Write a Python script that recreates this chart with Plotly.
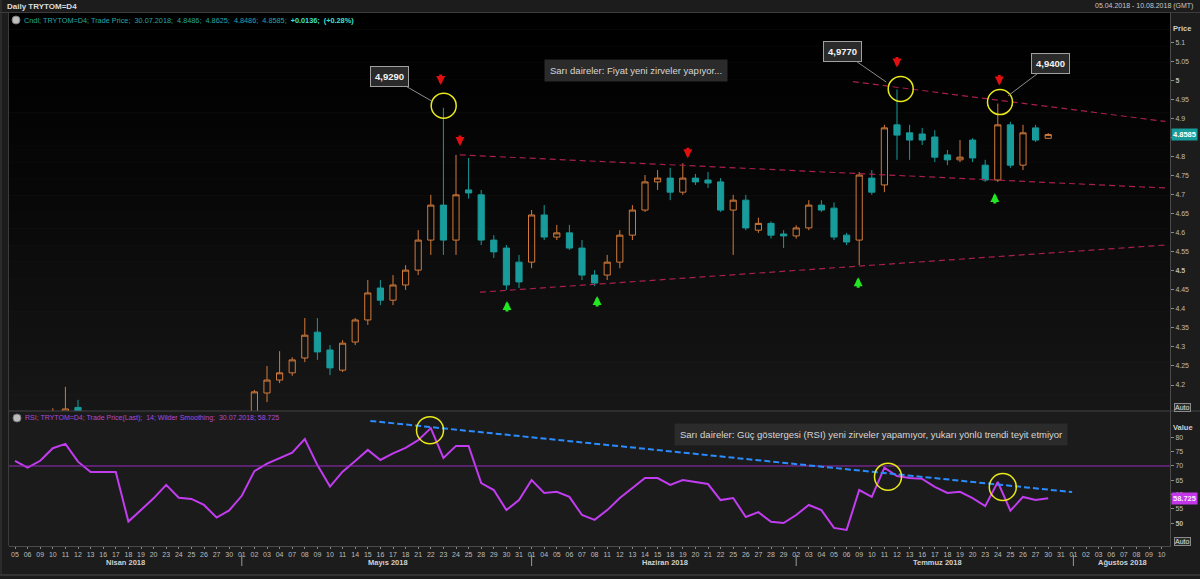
import plotly.graph_objects as go

W, H = 1200, 579

# ---------------- data ----------------
april_days = [5, 6, 9, 10, 11, 12, 13, 16, 17, 18, 19, 20, 23, 24, 25, 26, 27, 30]
may_days = [1, 2, 3, 4, 7, 8, 9, 10, 11, 14, 15, 16, 17, 18, 21, 22, 23, 24, 25, 28, 29, 30, 31]
june_days = [1, 4, 5, 6, 7, 8, 11, 12, 13, 14, 15, 18, 19, 20, 21, 22, 25, 26, 27, 28, 29]
july_days = [2, 3, 4, 5, 6, 9, 10, 11, 12, 13, 16, 17, 18, 19, 20, 23, 24, 25, 26, 27, 30, 31]
august_days = [1, 2, 3, 6, 7, 8, 9, 10]
month_numbers = [4, 5, 6, 7, 8]
month_names = ["Nisan 2018", "Mayıs 2018", "Haziran 2018", "Temmuz 2018", "Ağustos 2018"]

candle_dates = ["04-10", "04-11", "04-12", "05-02", "05-03", "05-04", "05-07", "05-08", "05-09", "05-10",
                "05-11", "05-14", "05-15", "05-16", "05-17", "05-18", "05-21", "05-22", "05-23", "05-24",
                "05-25", "05-28", "05-29", "05-30", "05-31", "06-01", "06-04", "06-05", "06-06", "06-07",
                "06-08", "06-11", "06-12", "06-13", "06-14", "06-15", "06-18", "06-19", "06-20", "06-21",
                "06-22", "06-25", "06-26", "06-27", "06-28", "06-29", "07-02", "07-03", "07-04", "07-05",
                "07-06", "07-09", "07-10", "07-11", "07-12", "07-13", "07-16", "07-17", "07-18", "07-19",
                "07-20", "07-23", "07-24", "07-25", "07-26", "07-27", "07-30"]
opens = [4.110, 4.110, 4.141, 4.120, 4.179, 4.213, 4.232, 4.271, 4.339, 4.292,
         4.239, 4.313, 4.371, 4.455, 4.423, 4.463, 4.502, 4.581, 4.673, 4.581,
         4.713, 4.700, 4.581, 4.560, 4.523, 4.523, 4.647, 4.589, 4.600, 4.560,
         4.489, 4.489, 4.523, 4.594, 4.660, 4.734, 4.744, 4.707, 4.744, 4.739,
         4.734, 4.660, 4.686, 4.607, 4.625, 4.597, 4.592, 4.613, 4.673, 4.665,
         4.594, 4.581, 4.744, 4.726, 4.884, 4.863, 4.860, 4.852, 4.805, 4.792,
         4.844, 4.778, 4.739, 4.884, 4.778, 4.876, 4.8486]
highs = [4.139, 4.195, 4.161, 4.187, 4.250, 4.289, 4.273, 4.376, 4.376, 4.305,
         4.318, 4.376, 4.476, 4.476, 4.489, 4.515, 4.607, 4.700, 4.929, 4.805,
         4.797, 4.713, 4.594, 4.568, 4.542, 4.660, 4.673, 4.621, 4.621, 4.581,
         4.502, 4.542, 4.607, 4.673, 4.752, 4.765, 4.771, 4.783, 4.755, 4.760,
         4.744, 4.700, 4.700, 4.640, 4.630, 4.607, 4.620, 4.686, 4.686, 4.680,
         4.600, 4.760, 4.765, 4.884, 4.977, 4.884, 4.876, 4.870, 4.818, 4.844,
         4.849, 4.792, 4.940, 4.892, 4.884, 4.884, 4.8625]
lows = [4.095, 4.100, 4.110, 4.110, 4.155, 4.205, 4.224, 4.260, 4.266, 4.226,
        4.234, 4.305, 4.358, 4.410, 4.410, 4.450, 4.489, 4.542, 4.542, 4.542,
        4.690, 4.568, 4.534, 4.450, 4.455, 4.507, 4.581, 4.581, 4.555, 4.476,
        4.460, 4.476, 4.507, 4.581, 4.655, 4.713, 4.686, 4.700, 4.726, 4.718,
        4.655, 4.542, 4.607, 4.600, 4.585, 4.560, 4.585, 4.607, 4.655, 4.581,
        4.568, 4.515, 4.700, 4.707, 4.792, 4.792, 4.831, 4.786, 4.778, 4.786,
        4.786, 4.734, 4.734, 4.771, 4.765, 4.839, 4.8486]
closes = [4.125, 4.137, 4.120, 4.182, 4.213, 4.232, 4.266, 4.331, 4.287, 4.245,
          4.310, 4.371, 4.442, 4.423, 4.463, 4.502, 4.581, 4.673, 4.581, 4.700,
          4.705, 4.581, 4.550, 4.463, 4.471, 4.647, 4.589, 4.600, 4.560, 4.489,
          4.468, 4.523, 4.594, 4.660, 4.734, 4.744, 4.707, 4.744, 4.734, 4.731,
          4.660, 4.686, 4.613, 4.625, 4.594, 4.592, 4.613, 4.673, 4.660, 4.589,
          4.576, 4.752, 4.707, 4.876, 4.857, 4.844, 4.844, 4.799, 4.792, 4.799,
          4.797, 4.739, 4.884, 4.778, 4.863, 4.844, 4.8585]

rsi_values = [71.8, 69.4, 71.8, 76.2, 77.7, 71.5, 67.9, 67.9, 67.9, 50.6,
              54.8, 58.7, 63.4, 58.9, 58.5, 56.4, 52.0, 54.5, 59.6, 68.2,
              70.8, 72.7, 74.6, 79.4, 70.3, 62.8, 68.0, 71.7, 75.6, 72.1,
              74.4, 76.3, 79.0, 83.2, 72.8, 77.0, 77.0, 64.0, 61.6, 54.6,
              58.1, 65.1, 60.6, 61.0, 59.2, 52.9, 51.2, 54.6, 58.8, 62.3,
              65.8, 65.8, 63.4, 65.1, 64.4, 63.7, 58.1, 58.8, 52.2, 53.9,
              50.5, 50.1, 52.9, 56.4, 54.6, 48.4, 47.7, 61.6, 59.2, 69.4,
              66.5, 65.8, 65.5, 62.7, 60.6, 61.0, 58.8, 56.0, 64.4, 54.4,
              59.2, 58.1, 58.725]

price_ticks = [4.2, 4.25, 4.3, 4.35, 4.4, 4.45, 4.5, 4.55, 4.6, 4.65, 4.7, 4.75,
               4.8, 4.85, 4.9, 4.95, 5.0, 5.05, 5.1]
rsi_ticks = [50, 55, 60, 65, 70, 75, 80]
rsi_level = 70

# peaks marked with yellow circles and callouts
peak_dates = ["05-23", "07-12", "07-24"]
peak_labels = ["4,9290", "4,9770", "4,9400"]
rsi_peak_dates = ["05-22", "07-11", "07-24"]

# trend lines (date-index, value) pairs
upper_res = [(66.5, 4.9975), (91.3, 4.893)]
triangle_top = [(35.3, 4.805), (91.3, 4.718)]
triangle_bot = [(36.9, 4.444), (91.3, 4.568)]
rsi_trend = [(28.2, 85.7), (83.9, 60.9)]

red_arrow_dates = ["05-23", "05-24", "06-19", "07-12", "07-24"]
green_arrow_dates = ["05-30", "06-08", "07-09", "07-24"]

# ---------------- derived ----------------
trade_dates = []
for m, days in zip(month_numbers, [april_days, may_days, june_days, july_days, august_days]):
    trade_dates += [f"{m:02d}-{d:02d}" for d in days]
tick_labels = [d[-2:] for d in trade_dates]
idx_of = {d: i for i, d in enumerate(trade_dates)}
cx = [idx_of[d] for d in candle_dates]
high_of = dict(zip(candle_dates, highs))
low_of = dict(zip(candle_dates, lows))

# ---------------- layout calibration (pixels) ----------------
X_FIRST, X_STEP = 15.0, 12.6
PX_L, PX_R = 9, 1170
P_TOP, P_BOT = 13, 411
R_TOP, R_BOT = 411, 546
ppu = (385.0 - 42.7) / 0.9
price_top = 5.1 + (42.7 - P_TOP) / ppu
price_bot = 5.1 - (P_BOT - 42.7) / ppu
rpu = (523.3 - 437.3) / 30.0
rsi_top = 80 + (437.3 - R_TOP) / rpu
rsi_bot = 80 - (R_BOT - 437.3) / rpu
idx_lo = (PX_L - X_FIRST) / X_STEP
idx_hi = (PX_R - X_FIRST) / X_STEP


def fx(p):
    return p / W


def fy(p):
    return 1 - p / H


ORANGE = "#d27a3a"
TEAL = "#189b9b"
RSI_C = "#c23cf0"
FONT = "Liberation Sans"

fig = go.Figure()
fig.add_trace(go.Candlestick(
    x=cx, open=opens, high=highs, low=lows, close=closes,
    increasing=dict(line=dict(color=ORANGE, width=1), fillcolor="rgba(0,0,0,0)"),
    decreasing=dict(line=dict(color=TEAL, width=1), fillcolor=TEAL),
    whiskerwidth=0, showlegend=False, hoverinfo="skip", xaxis="x", yaxis="y"))
fig.add_trace(go.Scatter(
    x=list(range(len(rsi_values))), y=rsi_values, mode="lines",
    line=dict(color=RSI_C, width=2), showlegend=False, hoverinfo="skip",
    xaxis="x", yaxis="y2"))

shapes = []
# price panel gradient background
N = 24
for k in range(N):
    y0 = P_TOP + (P_BOT - P_TOP) * k / N
    y1 = P_TOP + (P_BOT - P_TOP) * (k + 1) / N
    g = int(round(22 * (k / (N - 1)) ** 1.3))
    shapes.append(dict(type="rect", xref="paper", yref="paper", x0=fx(PX_L), x1=fx(PX_R),
                       y0=fy(y1), y1=fy(y0), fillcolor=f"rgb({g},{g},{g})",
                       line=dict(width=0), layer="below"))
shapes.append(dict(type="rect", xref="paper", yref="paper", x0=fx(PX_L), x1=fx(PX_R),
                   y0=fy(R_BOT), y1=fy(R_TOP), fillcolor="#1b1b1b", line=dict(width=0), layer="below"))
# frame lines
for (x0, y0, x1, y1, c) in [(0, 12.5, W, 12.5, "#3c3c3c"), (PX_L - 0.5, 12, PX_L - 0.5, R_BOT, "#3c3c3c"),
                            (PX_L, R_TOP, W, R_TOP, "#444444"), (0, 575, W, 575, "#4a4a4a"),
                            (1, 0, 1, 575, "#3a3a3a")]:
    shapes.append(dict(type="line", xref="paper", yref="paper", x0=fx(x0), x1=fx(x1),
                       y0=fy(y0), y1=fy(y1), line=dict(color=c, width=1)))
# RSI 70 line
shapes.append(dict(type="line", xref="paper", yref="y2", x0=fx(PX_L), x1=fx(PX_R),
                   y0=rsi_level, y1=rsi_level, line=dict(color="#9a2cc0", width=1)))
# price trend lines
for seg in [upper_res, triangle_top, triangle_bot]:
    shapes.append(dict(type="line", xref="x", yref="y", x0=seg[0][0], y0=seg[0][1],
                       x1=seg[1][0], y1=seg[1][1], line=dict(color="#a8204c", width=1.2, dash="6px,4px")))
shapes.append(dict(type="line", xref="x", yref="y2", x0=rsi_trend[0][0], y0=rsi_trend[0][1],
                   x1=rsi_trend[1][0], y1=rsi_trend[1][1],
                   line=dict(color="#2a8cff", width=2, dash="6px,3px")))
# yellow circles (pixel sized)
price_circle_off = [(0.3, 2.0), (3.7, 0.5), (2.2, 1.5)]
for d, (ox, oy) in zip(peak_dates, price_circle_off):
    r = 12.5
    shapes.append(dict(type="circle", xref="x", yref="y", xsizemode="pixel", ysizemode="pixel",
                       xanchor=idx_of[d], yanchor=high_of[d], x0=ox - r, x1=ox + r, y0=oy - r, y1=oy + r,
                       line=dict(color="#e8e81a", width=1.5)))
rsi_circle_off = [(-0.8, -2.0), (3.6, -9.0), (5.0, -5.0)]
for d, (ox, oy) in zip(rsi_peak_dates, rsi_circle_off):
    r = 13.5
    i = idx_of[d]
    shapes.append(dict(type="circle", xref="x", yref="y2", xsizemode="pixel", ysizemode="pixel",
                       xanchor=i, yanchor=rsi_values[i], x0=ox - r, x1=ox + r, y0=oy - r, y1=oy + r,
                       line=dict(color="#e8e81a", width=1.5)))
# month separators
for days, m in zip([may_days, june_days, july_days, august_days], month_numbers[1:]):
    i = idx_of[f"{m:02d}-{days[0]:02d}"]
    shapes.append(dict(type="line", xref="x", yref="paper", x0=i, x1=i, y0=fy(566), y1=fy(555),
                       line=dict(color="#9a9a9a", width=1)))
# legend icons
for (ix, iy) in [(16, 20), (17, 418)]:
    shapes.append(dict(type="circle", xref="paper", yref="paper", x0=fx(ix - 4), x1=fx(ix + 4),
                       y0=fy(iy + 4), y1=fy(iy - 4), fillcolor="#bdbdbd", line=dict(color="#7a7a7a", width=1)))

ann = []


def text(x, y, s, size=7, color="#cfcfcf", xanchor="left", bold=False, **kw):
    ann.append(dict(xref="paper", yref="paper", x=fx(x), y=fy(y), text=(f"<b>{s}</b>" if bold else s),
                    showarrow=False, xanchor=xanchor, yanchor="middle",
                    font=dict(family=FONT, size=size, color=color), **kw))


text(5, 6.5, "Daily TRYTOM=D4", size=8, color="#dcdcdc", bold=True)
text(1195, 6.5, "05.04.2018 - 10.08.2018 (GMT)", size=7, color="#c8c8c8", xanchor="right")
text(22, 20, "Cndl; TRYTOM=D4; Trade Price;  30.07.2018;  4.8486;  4.8625;  4.8486;  4.8585;  "
             "<span style='color:#3fe0d0'><b>+0.0136;  (+0.28%)</b></span>", size=7.3, color="#27a7a7")
text(23, 418, "RSI; TRYTOM=D4; Trade Price(Last);  14; Wilder Smoothing;  30.07.2018; 58.725",
     size=7, color="#b048d8")
text(1182, 29, "Price", size=7.5, color="#cfcfcf", xanchor="center", bold=True)
text(1183, 427, "Value", size=7.5, color="#cfcfcf", xanchor="center", bold=True)
for yy in [408, 541]:
    text(1182, yy, "Auto", size=7, color="#e0e0e0", xanchor="center",
         bgcolor="#2c2c2c", bordercolor="#8a8a8a", borderwidth=1, borderpad=0)
text(636, 70.5, "Sarı daireler: Fiyat yeni zirveler yapıyor...", size=9.5, color="#d6d6d6",
     xanchor="center", bgcolor="#2b2b2b", borderpad=5)
text(871, 434.5, "Sarı daireler: Güç göstergesi (RSI) yeni zirveler yapamıyor, yukarı yönlü trendi teyit etmiyor",
     size=9.5, color="#d6d6d6", xanchor="center", bgcolor="#2b2b2b", borderpad=5)

# month labels
month_label_px = [125, 388, 665, 937, 1122]
for name, mx in zip(month_names, month_label_px):
    text(mx, 562, name, size=7.5, color="#d0d0d0", xanchor="center", bold=True)

# current value boxes
ann.append(dict(xref="paper", yref="y", x=fx(1170.5), y=closes[-1], text=f"<b>{closes[-1]:.4f}</b>",
                showarrow=False, xanchor="left", yanchor="middle", bgcolor=TEAL, borderpad=1,
                font=dict(family=FONT, size=7.5, color="#ffffff")))
ann.append(dict(xref="paper", yref="y2", x=fx(1170.5), y=rsi_values[-1], text=f"<b>{rsi_values[-1]:.3f}</b>",
                showarrow=False, xanchor="left", yanchor="middle", bgcolor="#c238e8", borderpad=1,
                font=dict(family=FONT, size=7.5, color="#ffe6ff")))

# callout boxes with leader lines to circled peaks
callout_off = [(-54, -31), (-55, -38), (53, -40)]
for d, lab, (axp, ayp) in zip(peak_dates, peak_labels, callout_off):
    ann.append(dict(xref="x", yref="y", x=idx_of[d], y=high_of[d], text=f"<b>{lab}</b>",
                    showarrow=True, arrowhead=0, arrowwidth=1, arrowcolor="#8c8c8c", ax=axp, ay=ayp,
                    standoff=13, bgcolor="#2a2a2a", bordercolor="#a0a0a0", borderwidth=1, borderpad=4,
                    font=dict(family=FONT, size=9.5, color="#f2f2f2")))

# red / green arrows
red_shift = [(-2.7, 22.7), (4, 9), (5, 5), (0, 22), (1.5, 18)]
for d, (xs, ys) in zip(red_arrow_dates, red_shift):
    ann.append(dict(xref="x", yref="y", x=idx_of[d], y=high_of[d], text="", showarrow=True,
                    arrowhead=2, arrowsize=0.6, arrowwidth=3, arrowcolor="#e01010",
                    ax=0, ay=-12, xshift=xs, yshift=ys))
green_shift = [(0.6, -11), (2.5, -10), (-1, -12), (-3, -11)]
for d, (xs, ys) in zip(green_arrow_dates, green_shift):
    ann.append(dict(xref="x", yref="y", x=idx_of[d], y=low_of[d], text="", showarrow=True,
                    arrowhead=2, arrowsize=0.6, arrowwidth=3, arrowcolor="#22e622",
                    ax=0, ay=12, xshift=xs, yshift=ys))


def fmt_price(v):
    s = f"{v:.2f}".rstrip("0").rstrip(".")
    return f"<b>{s}</b>" if s in ("5", "4.5") else s


axis_common = dict(showgrid=False, zeroline=False, showline=True, linecolor="#4a4a4a",
                   ticks="outside", ticklen=3, tickcolor="#8a8a8a", fixedrange=True,
                   tickfont=dict(family=FONT, size=7, color="#bcbcbc"))

fig.update_layout(
    width=W, height=H, margin=dict(l=0, r=0, t=0, b=0),
    paper_bgcolor="#1c1c1c", plot_bgcolor="rgba(0,0,0,0)",
    showlegend=False, hovermode=False,
    font=dict(family=FONT),
    xaxis=dict(domain=[fx(PX_L), fx(PX_R)], range=[idx_lo, idx_hi], anchor="y2",
               tickmode="array", tickvals=list(range(len(trade_dates))), ticktext=tick_labels,
               tickangle=0, rangeslider=dict(visible=False),
               **{**axis_common, "ticklen": 2}),
    yaxis=dict(domain=[fy(P_BOT), fy(P_TOP)], range=[price_bot, price_top], side="right", anchor="x",
               tickmode="array", tickvals=price_ticks, ticktext=[fmt_price(v) for v in price_ticks],
               **axis_common),
    yaxis2=dict(domain=[fy(R_BOT), fy(R_TOP)], range=[rsi_bot, rsi_top], side="right", anchor="x",
                tickmode="array", tickvals=rsi_ticks,
                ticktext=[f"<b>{v}</b>" if v == 50 else str(v) for v in rsi_ticks],
                **axis_common),
    shapes=shapes, annotations=ann,
)

fig.write_html("out.html", config={"displayModeBar": False},
               post_script="document.body.style.margin='0';document.body.style.padding='0';"
                           "document.body.style.background='#1c1c1c';")
